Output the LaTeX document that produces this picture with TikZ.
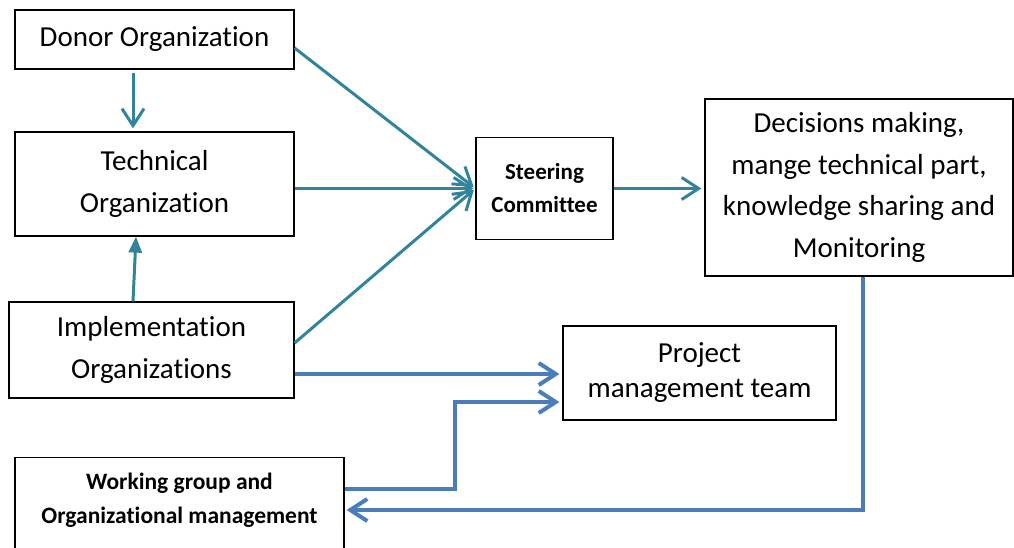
\documentclass[tikz,border=0pt]{standalone}
\usepackage[usenames]{xcolor}
\usepackage{fontspec}
\setmainfont[Ligatures=NoCommon]{Carlito}
\usepackage{tikz}
\usetikzlibrary{positioning}
\usetikzlibrary {arrows.meta}
\definecolor{tealline}{HTML}{31849B}
\definecolor{blueline}{HTML}{4A7EBB}

\begin{document}
\begin{tikzpicture}[x=1pt,y=-1pt,
		box/.style={draw,line width=1.2pt,align=center,inner sep=0pt,font=\fontsize{29pt}{41.5pt}\selectfont},
		tl/.style={tealline,line width=3pt,-{Straight Barb[length=17pt,width=22pt]}},
		bl/.style={blueline,line width=4pt,-{Straight Barb[length=17pt,width=22pt]}}]
			
			\useasboundingbox (0,0) rectangle (1014,548);
			
			\node[box,minimum width=279pt,minimum height=59pt] (D) at (154.5,39.5) {Donor Organization};
			\node[box,minimum width=279pt,minimum height=104pt] (T) at (154.5,184) {Technical\\Organization};
			\node[box,minimum width=285pt,minimum height=96pt] (I) at (151.5,350) {Implementation\\Organizations};
			\node[box,minimum width=137pt,minimum height=102pt,font=\bfseries\fontsize{23pt}{33pt}\selectfont] (S) at (544.5,188.5) {Steering\\Committee};
			\node[box,minimum width=308pt,minimum height=177pt] (M) at (859,187.5) {Decisions making,\\mange technical part,\\knowledge sharing and\\Monitoring};
			\node[box,minimum width=273pt,minimum height=94pt,font=\fontsize{29pt}{35pt}\selectfont] (P) at (699.5,373) {Project\\management team};
			\node[box,anchor=north,minimum width=329pt,inner ysep=15pt,text depth=80pt,font=\bfseries\fontsize{23.5pt}{34pt}\selectfont] (W) at (179.5,457) {Working group and\\Organizational management};
			
			\draw[tl,shorten <=3pt,shorten >=3pt] ([xshift=-21.5pt]D.south) -- ([xshift=-21.5pt]T.north);
			\draw[tealline,line width=3pt,-{Triangle[length=16pt,width=13pt]}] ([xshift=-18.5pt]I.north) -- ([xshift=-18.5pt]T.south);
			
			\draw[tl,shorten >=2pt] ([yshift=-8.5pt]D.east) -- (S.west);
			\draw[tl,shorten >=2pt] (T.east |- S.west) -- (S.west);
			\draw[tl,shorten >=2pt] ([yshift=7pt]I.east) -- (S.west);
			\draw[tl,shorten >=3pt] (S.east) -- (S.east -| M.west);
			
			\coordinate (IP) at ([yshift=-24pt]I.east);
			\coordinate (WB) at (455,489);
			\coordinate (MB) at (863,510);
			
			\draw[bl,shorten >=3pt] (IP) -- (IP -| P.west);
			\draw[bl,shorten >=3pt] (WB -| W.east) -- (WB) |- ([yshift=-29pt]P.west);
			\draw[bl,shorten >=2pt] (M.south -| MB) -- (MB) -- (MB -| W.east);
			
		\end{tikzpicture}
\end{document}
